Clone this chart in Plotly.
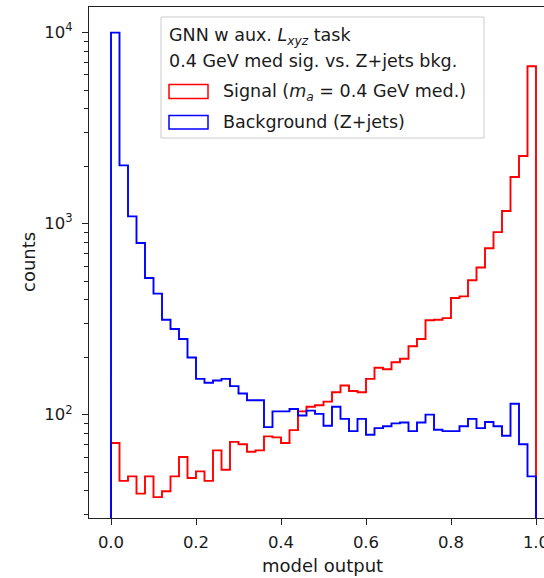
import numpy as np
import plotly.graph_objects as go

# ---- data (counts per bin, 50 bins on [0, 1]) ----
bin_edges = np.linspace(0.0, 1.0, 51)
signal_counts = [71, 45, 47.5, 38.6, 47.5, 37, 39.7, 47.5, 60, 46.6,
                 50.5, 45, 65, 51.5, 72, 70, 64, 65, 77, 76,
                 71, 83, 104, 110, 112, 117, 131, 142, 133, 131,
                 154, 176, 173, 188, 196, 228, 249, 312, 314, 320,
                 408, 416, 505, 589, 743, 903, 1164, 1754, 2259, 6660]
background_counts = [10000, 2018, 1091, 792, 519, 430, 314, 281, 249, 199,
                     154, 147, 151, 154, 141, 129, 119, 119, 86, 104,
                     104, 107, 99, 105, 101, 87.5, 110, 95, 82, 95,
                     78.5, 85, 87, 90, 91, 82, 91, 100, 83.4, 82,
                     82, 87, 95, 85, 91.5, 87, 77.6, 114, 70, 47.5]
x_tick_vals = [0.0, 0.2, 0.4, 0.6, 0.8, 1.0]
x_tick_text = ["0.0", "0.2", "0.4", "0.6", "0.8", "1.0"]
y_tick_vals = [100, 1000, 10000]
y_tick_text = ["10<sup>2</sup>", "10<sup>3</sup>", "10<sup>4</sup>"]
y_minor_vals = [m * d for d in (10, 100, 1000) for m in range(2, 10)]
legend_title_1 = "GNN w aux. <i>L</i><sub><i>xyz</i></sub> task"
legend_title_2 = "0.4 GeV med sig. vs. Z+jets bkg."
signal_label = "Signal (<i>m</i><sub><i>a</i></sub> = 0.4 GeV med.)"
background_label = "Background (Z+jets)"

FONT = "DejaVu Sans"
TXT = "#1a1a1a"
BASE = 1.0  # histogram baseline (below visible log range)


def step_xy(edges, counts):
    xs = [edges[0]] + list(edges[:-1]) + [edges[-1]]
    ys = [BASE] + list(counts) + [BASE]
    return xs, ys


fig = go.Figure()
for counts, color in ((signal_counts, "#ff0000"), (background_counts, "#0000ff")):
    xs, ys = step_xy(bin_edges, counts)
    fig.add_trace(go.Scatter(x=xs, y=ys, mode="lines", line_shape="hv",
                             line=dict(color=color, width=1.9),
                             showlegend=False, hoverinfo="skip"))

W, H = 544, 578
L, R, T, B = 89, 0, 7, 60
PW, PH = W - L - R, H - T - B


def px(x):
    return (x - L) / PW


def py(y):
    return (H - B - y) / PH


shapes = [
    dict(type="rect", xref="paper", yref="paper",
         x0=px(161), x1=px(484), y0=py(138), y1=py(17),
         line=dict(color="#cccccc", width=1), fillcolor="rgba(255,255,255,0.8)",
         layer="above"),
    dict(type="rect", xref="paper", yref="paper",
         x0=px(169), x1=px(208), y0=py(98.5), y1=py(84.5),
         line=dict(color="#ff0000", width=1.5), fillcolor="white", layer="above"),
    dict(type="rect", xref="paper", yref="paper",
         x0=px(169), x1=px(208), y0=py(129), y1=py(115.5),
         line=dict(color="#0000ff", width=1.5), fillcolor="white", layer="above"),
]

tfont = dict(family=FONT, size=17.5, color=TXT)
annotations = [
    dict(text=legend_title_1, x=px(167), y=py(36), xref="paper", yref="paper",
         xanchor="left", yanchor="middle", showarrow=False, font=tfont),
    dict(text=legend_title_2, x=px(167), y=py(61), xref="paper", yref="paper",
         xanchor="left", yanchor="middle", showarrow=False, font=tfont),
    dict(text=signal_label, x=px(221), y=py(92), xref="paper", yref="paper",
         xanchor="left", yanchor="middle", showarrow=False, font=tfont),
    dict(text=background_label, x=px(221), y=py(122), xref="paper", yref="paper",
         xanchor="left", yanchor="middle", showarrow=False, font=tfont),
    dict(text="counts", x=px(28), y=py(262), xref="paper", yref="paper",
         textangle=-90, xanchor="center", yanchor="middle", showarrow=False,
         font=dict(family=FONT, size=18, color=TXT)),
    dict(text="model output", x=px(322), y=py(565), xref="paper", yref="paper",
         xanchor="center", yanchor="middle", showarrow=False,
         font=dict(family=FONT, size=18, color=TXT)),
]

fig.update_layout(
    width=W, height=H,
    margin=dict(l=L, r=R, t=T, b=B, pad=0, autoexpand=False),
    paper_bgcolor="white", plot_bgcolor="white",
    showlegend=False,
    shapes=shapes, annotations=annotations,
    font=dict(family=FONT, size=16, color=TXT),
)
fig.update_xaxes(
    range=[-(111 - L) / 425, (W - 111) / 425],
    automargin=False,
    showgrid=False, zeroline=False,
    showline=True, linecolor="#222222", linewidth=1.3, mirror=True,
    ticks="outside", ticklen=6, tickwidth=1.3, tickcolor="#222222",
    tickmode="array", tickvals=x_tick_vals, ticktext=x_tick_text,
    tickfont=dict(family=FONT, size=16.5, color=TXT),
    ticklabeloverflow="allow", ticklabelstandoff=3,
)
fig.update_yaxes(
    type="log", range=[1.459, 4.134],
    automargin=False,
    showgrid=False, zeroline=False,
    showline=True, linecolor="#222222", linewidth=1.3, mirror=False,
    ticks="outside", ticklen=6, tickwidth=1.3, tickcolor="#222222",
    tickmode="array", tickvals=y_tick_vals, ticktext=y_tick_text,
    tickfont=dict(family=FONT, size=16.5, color=TXT),
    ticklabelstandoff=6,
    minor=dict(ticks="outside", ticklen=3.5, tickwidth=1, tickcolor="#222222",
               tickmode="array", tickvals=y_minor_vals, showgrid=False),
)

fig.write_html("out.html")
